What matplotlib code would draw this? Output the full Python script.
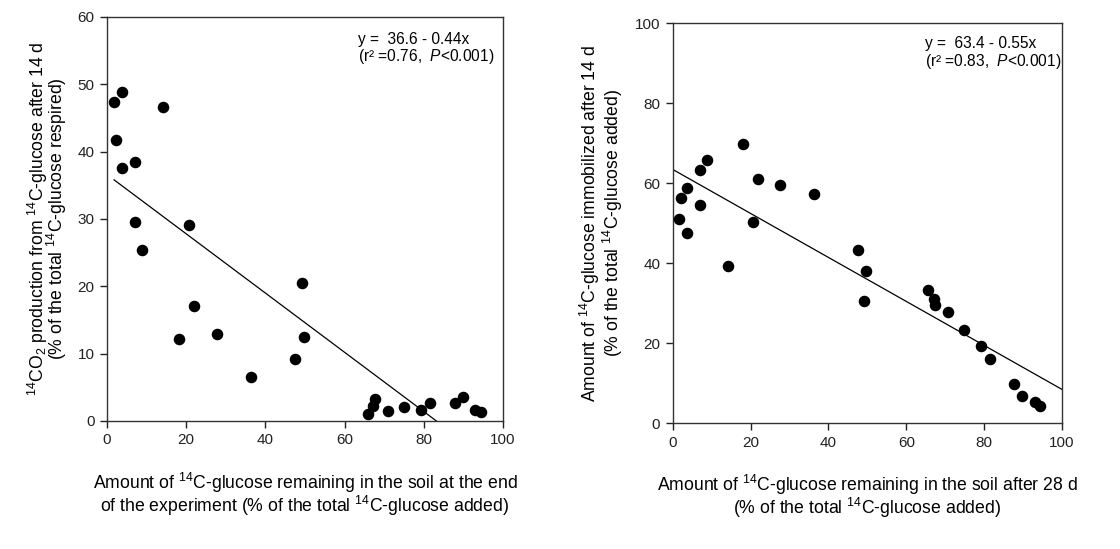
import matplotlib
matplotlib.use("Agg")
import matplotlib.pyplot as plt

plt.rcParams['font.family'] = ['Liberation Sans', 'DejaVu Sans']
plt.rcParams['mathtext.fontset'] = 'custom'
plt.rcParams['mathtext.rm'] = 'Liberation Sans'
plt.rcParams['mathtext.it'] = 'Liberation Sans:italic'
plt.rcParams['mathtext.default'] = 'regular'

# glucose remaining in soil (% of added) - same samples in both panels
remaining = [1.7, 3.7, 2.2, 3.9, 7.2, 7.2, 8.9, 14.2, 20.7, 21.9, 18.3, 27.7, 36.4, 49.2,
             49.7, 47.6, 65.9, 67.2, 67.6, 71.0, 74.9, 79.4, 81.5, 87.8, 89.9, 93.0, 94.4]
# 14CO2 respired after 14 d (% of added)
respired = [47.3, 48.9, 41.8, 37.5, 38.5, 29.5, 25.4, 46.7, 29.1, 17.1, 12.1, 12.9, 6.5, 20.5,
            12.4, 9.2, 1.1, 2.2, 3.3, 1.5, 2.1, 1.6, 2.7, 2.7, 3.5, 1.7, 1.4]

remaining2 = [1.6, 3.8, 2.1, 3.6, 7.1, 7.1, 8.8, 14.2, 20.6, 21.8, 18.1, 27.5, 36.2, 49.1,
              49.6, 47.6, 65.7, 67.1, 67.4, 70.8, 74.8, 79.3, 81.4, 87.7, 89.7, 93.0, 94.4]
# 14C immobilized after 14 d (% of added)
immobilized = [51.1, 58.8, 56.2, 47.6, 63.3, 54.5, 65.8, 39.3, 50.3, 61.1, 69.8, 59.6, 57.3, 30.4,
               38.1, 43.2, 33.3, 30.9, 29.4, 27.8, 23.3, 19.3, 16.1, 9.75, 6.8, 5.3, 4.3]

# regression lines (intercept, slope) and x-range shown
fit1 = (36.6, -0.44)
fit1_x = [1.8, 83.2]
fit2 = (63.4, -0.55)
fit2_x = [0, 100]

fig = plt.figure(figsize=(11.2, 5.49), dpi=100)
ax1 = fig.add_axes([0.0955, 0.2332, 0.3536, 0.7359])
ax2 = fig.add_axes([0.6006, 0.2295, 0.3476, 0.7286])


def style(ax, ymax, ystep):
    ax.set_xlim(0, 100)
    ax.set_ylim(0, ymax)
    ax.set_xticks(range(0, 101, 20))
    ax.set_yticks(range(0, ymax + 1, ystep))
    ax.tick_params(direction='out', length=5, width=1, labelsize=11, colors='#222222',
                   top=False, right=False, pad=4)
    for sp in ax.spines.values():
        sp.set_color('#333333')
        sp.set_linewidth(1)


ax1.plot(remaining, respired, 'o', color='black', markersize=7.3, zorder=3)
ax1.plot(fit1_x, [fit1[0] + fit1[1] * x for x in fit1_x], color='black', lw=0.9)
style(ax1, 60, 10)
ax1.set_xlabel('Amount of $^{14}$C-glucose remaining in the soil at the end\n'
               'of the experiment (% of the total $^{14}$C-glucose added)',
               fontsize=12.7, labelpad=17, linespacing=0.95)
ax1.set_ylabel('$^{14}$CO$_{2}$ production from $^{14}$C-glucose after 14 d\n'
               '(% of the total $^{14}$C-glucose respired)',
               fontsize=12.7, labelpad=6, linespacing=0.75)
ax1.text(0.634, 0.945, 'y =  36.6 - 0.44x', transform=ax1.transAxes, fontsize=11.2,
         va='center', ha='left')
ax1.text(0.634, 0.902, '(r² =0.76,  $\\mathit{P}$<0.001)', transform=ax1.transAxes,
         fontsize=11.2, va='center', ha='left')

ax2.plot(remaining2, immobilized, 'o', color='black', markersize=7.3, zorder=3)
ax2.plot(fit2_x, [fit2[0] + fit2[1] * x for x in fit2_x], color='black', lw=0.9)
style(ax2, 100, 20)
ax2.set_xlabel('Amount of $^{14}$C-glucose remaining in the soil after 28 d\n'
               '(% of the total $^{14}$C-glucose added)',
               fontsize=12.7, labelpad=17, linespacing=0.95)
ax2.set_ylabel('Amount of $^{14}$C-glucose immobilized after 14 d\n'
               '(% of the total $^{14}$C-glucose added)',
               fontsize=12.7, labelpad=7, linespacing=0.95)
ax2.text(0.648, 0.95, 'y =  63.4 - 0.55x', transform=ax2.transAxes, fontsize=11.2,
         va='center', ha='left')
ax2.text(0.648, 0.903, '(r² =0.83,  $\\mathit{P}$<0.001)', transform=ax2.transAxes,
         fontsize=11.2, va='center', ha='left')

fig.savefig('out.png', dpi=100)
